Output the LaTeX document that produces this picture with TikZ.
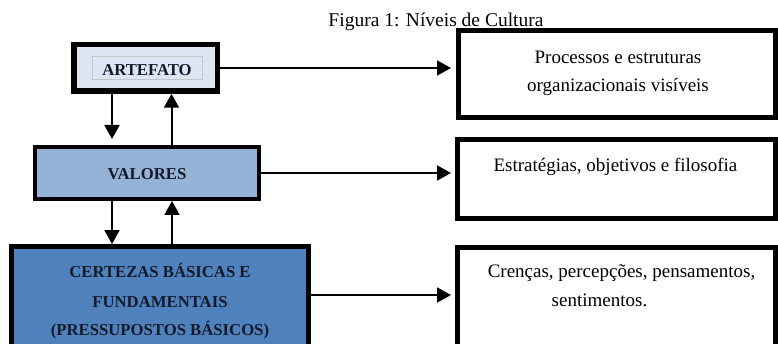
\documentclass[tikz,border=0pt]{standalone}
\usepackage{fontspec}
\setmainfont{Liberation Serif}
\usetikzlibrary{arrows.meta,calc}
\definecolor{artfill}{HTML}{DCE6F2}
\definecolor{valfill}{HTML}{95B3D7}
\definecolor{certfill}{HTML}{4F81BD}
\definecolor{txtdark}{HTML}{141A2A}
\begin{document}
\begin{tikzpicture}[x=1pt,y=-1pt,
  box/.style={draw=black, rectangle, inner sep=0pt, outer sep=0pt},
  boldtxt/.style={font=\fontsize{16.7}{28}\selectfont\bfseries, text=txtdark, inner sep=0pt, anchor=base},
  plaintxt/.style={font=\fontsize{19}{28}\selectfont, text=black, inner sep=0pt, anchor=base},
  arr/.style={-{Triangle[length=14pt,width=15pt]}, line width=2pt},
]
\useasboundingbox (0,0) rectangle (778,344);
\clip (0,0) rectangle (778,344);

% left column boxes
\node[box, fill=artfill, line width=5.5pt, minimum width=143.5pt, minimum height=46.5pt] (art) at (145.5,68) {};
\node[box, fill=valfill, line width=4pt, minimum width=224pt, minimum height=52pt] (val) at (147,173) {};
\node[box, fill=certfill, line width=4.7pt, minimum width=297.3pt, minimum height=101.3pt] (cert) at (160,297) {};

% right column boxes
\node[box, line width=5pt, minimum width=317pt, minimum height=87pt] (b1) at (617,74) {};
\node[box, line width=5pt, minimum width=318pt, minimum height=79pt] (b2) at (616.5,179) {};
\node[box, line width=5pt, minimum width=318pt, minimum height=102pt] (b3) at (616.5,298.5) {};

% caption
\node[plaintxt, font=\fontsize{19.5}{24}\selectfont] (cap) at (436,27) {Figura 1: Níveis de Cultura};

% left texts
\node[draw=gray!45, line width=0.6pt, inner sep=0pt, minimum width=110pt, minimum height=23pt,
      text height=17pt, text depth=0pt, font=\fontsize{16.7}{28}\selectfont\bfseries, text=txtdark] (artlbl) at (147,67.5) {ARTEFATO};
\node[boldtxt] (vallbl) at (147,180) {VALORES};
\node[boldtxt] (certa) at (160,278) {CERTEZAS BÁSICAS E};
\node[boldtxt] (certb) at (160,307) {FUNDAMENTAIS};
\node[boldtxt] (certc) at (160,335) {(PRESSUPOSTOS BÁSICOS)};

% right texts
\node[plaintxt] (t1a) at (618,64) {Processos e estruturas};
\node[plaintxt] (t1b) at (618,92) {organizacionais visíveis};
\node[plaintxt] (t2a) at (615.5,172) {Estratégias, objetivos e filosofia};
\node[plaintxt] (t3a) at (621.5,278) {Crenças, percepções, pensamentos,};
\node[plaintxt] (t3b) at (599.5,306) {sentimentos.};

% horizontal arrows
\draw[arr, shorten >=7.5pt] (art.east) -- (art.east -| b1.west);
\draw[arr, shorten >=6.5pt] (val.east) -- (val.east -| b2.west);
\draw[arr, shorten >=6.5pt] ([yshift=2pt]cert.east) -- ([yshift=2pt]cert.east -| b3.west);

% vertical arrows
\coordinate (xl) at (112,0);
\coordinate (xr) at (171.5,0);
\coordinate (xr2) at (172,0);
\draw[arr, shorten >=8pt] (art.south -| xl) -- (val.north -| xl);
\draw[arr, shorten >=2.5pt] (val.north -| xr) -- (art.south -| xr);
\draw[arr, shorten >=2.3pt] (val.south -| xl) -- (cert.north -| xl);
\draw[arr, shorten >=2pt] (cert.north -| xr2) -- (val.south -| xr2);
\end{tikzpicture}
\end{document}
